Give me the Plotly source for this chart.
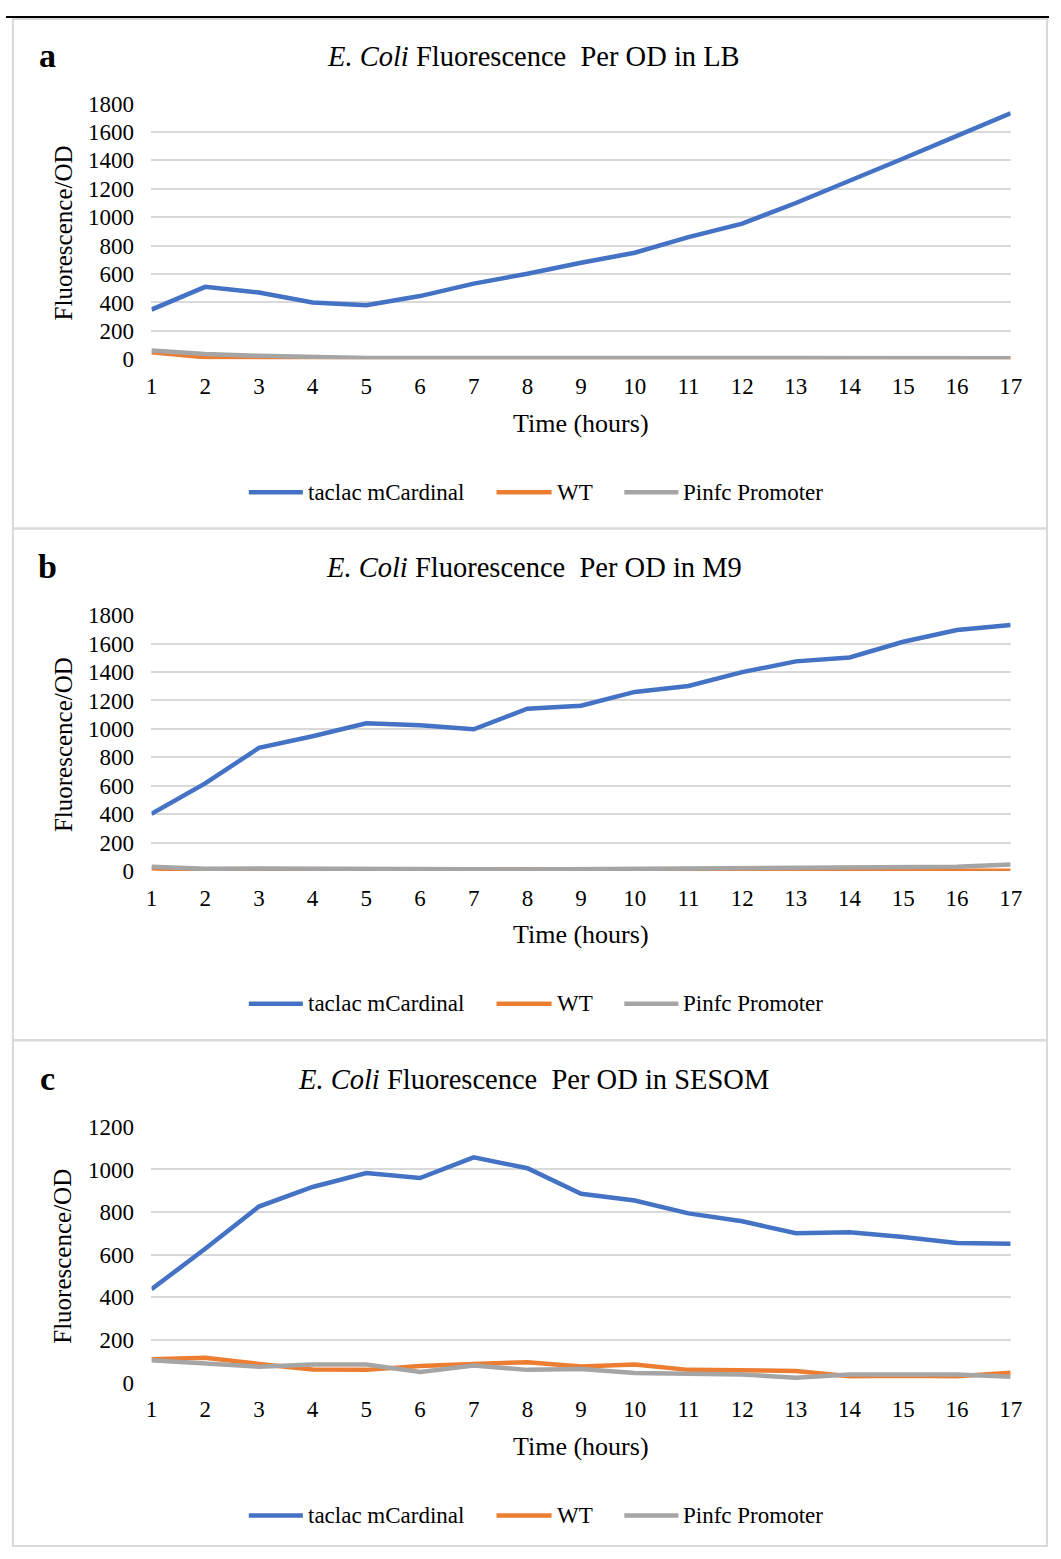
import plotly.graph_objects as go

hours = list(range(1, 18))
series_names = ["taclac mCardinal", "WT", "Pinfc Promoter"]

lb_taclac = [350, 510, 470, 400, 380, 445, 533, 602, 680, 750, 860, 955, 1100, 1253, 1413, 1572, 1731]
lb_wt = [50, 15, 12, 8, 5, 5, 5, 5, 8, 10, 5, 5, 10, 10, 5, 5, 5]
lb_pinfc = [62, 38, 25, 15, 10, 10, 10, 10, 10, 8, 8, 8, 8, 8, 5, 8, 8]

m9_taclac = [402, 616, 866, 948, 1039, 1025, 997, 1142, 1163, 1260, 1302, 1399, 1475, 1502, 1613, 1696, 1731]
m9_wt = [20, 0, 0, 0, 0, 5, 8, 12, 5, 5, 3, 3, 3, 2, 2, 2, 2]
m9_pinfc = [30, 15, 18, 18, 18, 15, 12, 10, 12, 12, 18, 18, 18, 22, 25, 30, 45]

sesom_taclac = [438, 628, 826, 918, 983, 960, 1057, 1006, 886, 854, 794, 757, 701, 706, 683, 655, 651]
sesom_wt = [110, 117, 88, 62, 60, 78, 88, 96, 76, 85, 60, 58, 55, 30, 33, 30, 47]
sesom_pinfc = [105, 88, 75, 85, 85, 50, 80, 60, 64, 45, 41, 38, 23, 38, 38, 38, 28]

panel_letters = ["a", "b", "c"]
panel_media = ["LB", "M9", "SESOM"]
y_ranges = [1800, 1800, 1200]
y_dtick = [200, 200, 200]

colors = ["#4472C4", "#ED7D31", "#A5A5A5"]

W, H = 1061, 1559
FONT = "Liberation Serif, Times New Roman, serif"


def px(x):
    return x / W


def py(y):
    return 1 - y / H


panels = [
    (lb_taclac, lb_wt, lb_pinfc),
    (m9_taclac, m9_wt, m9_pinfc),
    (sesom_taclac, sesom_wt, sesom_pinfc),
]

offsets = [0, 520, 1040]
plot_top, plot_bot = 93, 353
plot_left, plot_right = 148, 1022
legend_lines = [(247, 302), (499, 555), (629, 684)]
legend_text_x = [305, 558, 687]
legend_y = 488

fig = go.Figure()
layout = dict(
    width=W, height=H,
    margin=dict(l=0, r=0, t=0, b=0, pad=0),
    paper_bgcolor="white", plot_bgcolor="white",
    font=dict(family=FONT, color="#000000", size=23),
    showlegend=False,
)
annotations = []
shapes = []

for i, (data, off) in enumerate(zip(panels, offsets)):
    n = "" if i == 0 else str(i + 1)
    xa, ya = "x" + n, "y" + n
    for name, vals, col in zip(series_names, data, colors):
        fig.add_trace(go.Scatter(
            x=hours, y=vals, name=name, mode="lines",
            line=dict(color=col, width=4.5),
            xaxis=xa, yaxis=ya, cliponaxis=False,
        ))
    layout["xaxis" + n] = dict(
        domain=[px(plot_left), px(plot_right)], anchor=ya,
        range=[1, 17], tickmode="array", tickvals=hours,
        ticktext=[str(h) for h in hours],
        showgrid=False, zeroline=False, showline=False,
        ticks="outside", ticklen=6, tickcolor="rgba(0,0,0,0)",
        tickfont=dict(size=23, family=FONT),
    )
    layout["yaxis" + n] = dict(
        domain=[py(plot_bot + off), py(plot_top + off)], anchor=xa,
        range=[0, y_ranges[i]], dtick=y_dtick[i],
        showgrid=True, gridcolor="#D9D9D9", gridwidth=1.5,
        zeroline=False, showline=False,
        ticks="outside", ticklen=12, tickcolor="rgba(0,0,0,0)",
        tickfont=dict(size=23, family=FONT),
    )
    for (x0, x1), tx, name, col in zip(legend_lines, legend_text_x, series_names, colors):
        shapes.append(dict(type="line", xref="paper", yref="paper",
                           x0=px(x0), x1=px(x1), y0=py(legend_y + off), y1=py(legend_y + off),
                           line=dict(color=col, width=4.5)))
        annotations.append(dict(
            text=name, x=px(tx), y=py(legend_y + off), xref="paper", yref="paper",
            xanchor="left", yanchor="middle", showarrow=False,
            font=dict(size=23, family=FONT),
        ))
    annotations.append(dict(
        text="<i>E. Coli</i> Fluorescence  Per OD in " + panel_media[i],
        x=px(537), y=py(45 + off), xref="paper", yref="paper",
        xanchor="center", yanchor="middle", showarrow=False,
        font=dict(size=28.5, family=FONT),
    ))
    annotations.append(dict(
        text="<b>" + panel_letters[i] + "</b>",
        x=px(42), y=py(44 + off), xref="paper", yref="paper",
        xanchor="center", yanchor="middle", showarrow=False,
        font=dict(size=34, family=FONT),
    ))
    annotations.append(dict(
        text="Time (hours)", x=px(585), y=py(418 + off),
        xref="paper", yref="paper", xanchor="center", yanchor="middle",
        showarrow=False, font=dict(size=26, family=FONT),
    ))
    annotations.append(dict(
        text="Fluorescence/OD", x=px(58), y=py(225 + off),
        xref="paper", yref="paper", xanchor="center", yanchor="middle",
        textangle=-90, showarrow=False, font=dict(size=25, family=FONT),
    ))

border = "#D9D9D9"
for top, bot in [(7, 525), (525, 1045), (1045, 1559)]:
    shapes.append(dict(type="rect", xref="paper", yref="paper",
                       x0=px(7), x1=px(1059), y0=py(bot), y1=py(top),
                       line=dict(color=border, width=2), layer="below"))
shapes.append(dict(type="line", xref="paper", yref="paper",
                   x0=0, x1=1, y0=py(5), y1=py(5),
                   line=dict(color="#000000", width=2)))

layout["annotations"] = annotations
layout["shapes"] = shapes
fig.update_layout(**layout)
fig.write_html(
    "out.html",
    post_script="document.body.style.margin='0';",
)
